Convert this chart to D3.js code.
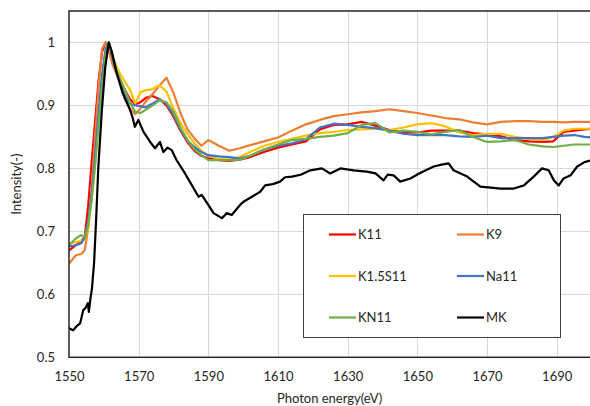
<!DOCTYPE html>
<html>
<head>
<meta charset="utf-8">
<script src="https://cdn.jsdelivr.net/npm/d3@7"></script>
<style>
  body { margin: 0; background: #fff; }
  svg { display: block; }
  text { font-family: Lato, "Open Sans", sans-serif; fill: #262626; }
</style>
</head>
<body>
<div class="chart"></div>
<script>
var svgWidth = 590;
var svgHeight = 406;

// energies shared by the five glass samples
var energy = [1550, 1552, 1553.5, 1554.5, 1555.5, 1556.5, 1557.5, 1558.5, 1559.5, 1560.5,
  1561.5, 1562.5, 1564, 1566, 1567.5, 1569, 1570.5, 1572, 1574, 1576,
  1578, 1580, 1582, 1584, 1586, 1588, 1590, 1593, 1596, 1599,
  1602, 1606, 1610, 1614, 1618, 1622, 1626, 1630, 1634, 1638,
  1642, 1646, 1650, 1654, 1658, 1662, 1666, 1670, 1674, 1678,
  1682, 1686, 1689, 1692, 1695, 1698, 1700];

var k11 = [0.670, 0.678, 0.685, 0.690, 0.740, 0.810, 0.875, 0.940, 0.985, 1.000,
  0.990, 0.975, 0.950, 0.925, 0.910, 0.902, 0.905, 0.912, 0.915, 0.910,
  0.900, 0.882, 0.860, 0.842, 0.828, 0.820, 0.816, 0.813, 0.812, 0.814,
  0.818, 0.826, 0.833, 0.838, 0.843, 0.862, 0.869, 0.870, 0.874, 0.868,
  0.861, 0.857, 0.857, 0.860, 0.860, 0.860, 0.856, 0.854, 0.851, 0.845,
  0.843, 0.842, 0.843, 0.858, 0.860, 0.862, 0.863];

var k9 = [0.649, 0.662, 0.664, 0.670, 0.705, 0.770, 0.850, 0.930, 0.990, 1.000,
  0.985, 0.965, 0.945, 0.910, 0.895, 0.886, 0.895, 0.906, 0.918, 0.932,
  0.944, 0.920, 0.888, 0.862, 0.848, 0.836, 0.845, 0.836, 0.828, 0.832,
  0.837, 0.843, 0.849, 0.860, 0.870, 0.877, 0.883, 0.886, 0.889, 0.891,
  0.894, 0.891, 0.888, 0.884, 0.880, 0.878, 0.873, 0.870, 0.874, 0.875,
  0.875, 0.874, 0.874, 0.873, 0.874, 0.874, 0.874];

var k15s11 = [0.681, 0.683, 0.685, 0.688, 0.705, 0.750, 0.810, 0.880, 0.940, 0.985,
  1.000, 0.980, 0.957, 0.938, 0.925, 0.903, 0.921, 0.924, 0.926, 0.932,
  0.922, 0.895, 0.872, 0.855, 0.840, 0.828, 0.820, 0.815, 0.814, 0.818,
  0.826, 0.836, 0.842, 0.847, 0.852, 0.856, 0.858, 0.861, 0.862, 0.863,
  0.861, 0.865, 0.870, 0.872, 0.867, 0.857, 0.853, 0.855, 0.855, 0.850,
  0.847, 0.845, 0.850, 0.860, 0.863, 0.863, 0.863];

var na11 = [0.676, 0.678, 0.681, 0.690, 0.715, 0.760, 0.820, 0.890, 0.950, 0.990,
  1.000, 0.975, 0.945, 0.918, 0.903, 0.900, 0.899, 0.897, 0.903, 0.910,
  0.903, 0.885, 0.862, 0.844, 0.834, 0.826, 0.821, 0.819, 0.818, 0.816,
  0.820, 0.830, 0.836, 0.840, 0.846, 0.865, 0.871, 0.869, 0.866, 0.864,
  0.860, 0.855, 0.853, 0.853, 0.853, 0.851, 0.850, 0.852, 0.848, 0.848,
  0.848, 0.848, 0.850, 0.852, 0.853, 0.850, 0.849];

var kn11 = [0.678, 0.689, 0.694, 0.690, 0.710, 0.750, 0.805, 0.870, 0.930, 0.980,
  1.000, 0.980, 0.950, 0.925, 0.905, 0.890, 0.888, 0.893, 0.900, 0.908,
  0.905, 0.890, 0.865, 0.845, 0.830, 0.821, 0.813, 0.813, 0.813, 0.814,
  0.820, 0.830, 0.838, 0.845, 0.847, 0.850, 0.852, 0.856, 0.869, 0.872,
  0.857, 0.860, 0.858, 0.854, 0.858, 0.861, 0.850, 0.842, 0.843, 0.845,
  0.838, 0.835, 0.834, 0.836, 0.838, 0.838, 0.838];

// the reference sample was read on its own, finer grid
var mkEnergy = [1550, 1551.2, 1552.3, 1553.2, 1554.1, 1554.7, 1555.4, 1555.7, 1556.1, 1556.6,
  1557.2, 1557.8, 1558.4, 1559.4, 1560.4, 1561.4, 1562.3, 1563.5, 1565.4, 1567.3,
  1568.2, 1568.9, 1569.9, 1571.4, 1573.3, 1574.7, 1576.1, 1577.1, 1578.3, 1579.5,
  1580.9, 1583.3, 1585.3, 1587.2, 1588.1, 1590, 1591.5, 1593.9, 1595.3, 1596.7,
  1599.1, 1600.1, 1602.5, 1604.9, 1606.3, 1608.5, 1610.6, 1612, 1614, 1616.5,
  1619.3, 1622.6, 1625, 1627.9, 1631.7, 1635.5, 1638, 1640.3, 1641.5, 1643.2,
  1645.1, 1648, 1650.5, 1654.7, 1657, 1659, 1660.4, 1664.3, 1668.1, 1673.9,
  1677.7, 1680.6, 1683.4, 1685.8, 1687.7, 1689.2, 1690.6, 1692, 1694, 1695.9,
  1698, 1700];

var mk = [0.546, 0.543, 0.550, 0.554, 0.575, 0.578, 0.586, 0.572, 0.591, 0.610,
  0.650, 0.720, 0.800, 0.890, 0.960, 1.000, 0.985, 0.956, 0.920, 0.896,
  0.882, 0.866, 0.877, 0.858, 0.842, 0.832, 0.842, 0.826, 0.833, 0.829,
  0.813, 0.792, 0.773, 0.755, 0.758, 0.742, 0.729, 0.721, 0.729, 0.726,
  0.742, 0.747, 0.755, 0.763, 0.773, 0.775, 0.779, 0.786, 0.787, 0.790,
  0.797, 0.800, 0.792, 0.800, 0.797, 0.795, 0.792, 0.781, 0.790, 0.789,
  0.779, 0.784, 0.792, 0.803, 0.806, 0.808, 0.797, 0.787, 0.771, 0.768,
  0.768, 0.773, 0.787, 0.800, 0.797, 0.781, 0.773, 0.784, 0.789, 0.803,
  0.810, 0.813];

var seriesNames = ["K11", "K9", "K1.5S11", "Na11", "KN11", "MK"];
var seriesColors = ["#ff0000", "#ed7d31", "#ffc000", "#4472c4", "#70ad47", "#000000"];
var xTicks = [1550, 1570, 1590, 1610, 1630, 1650, 1670, 1690];
var yTicks = [0.5, 0.6, 0.7, 0.8, 0.9, 1];

var plot = { left: 69, top: 11, right: 591.5, bottom: 357.3 };

var svg = d3.select(".chart")
  .append("svg")
  .attr("width", svgWidth)
  .attr("height", svgHeight);

var xScale = d3.scaleLinear()
  .domain([1550, 1700])
  .range([plot.left, plot.right]);

var yScale = d3.scaleLinear()
  .domain([0.5, 1.05])
  .range([plot.bottom, plot.top]);

function makeGrid() {
  svg.append("g")
    .selectAll("line")
    .data(xTicks.slice(1))
    .enter()
    .append("line")
    .attr("x1", function(d) { return Math.round(xScale(d)) + 0.5; })
    .attr("x2", function(d) { return Math.round(xScale(d)) + 0.5; })
    .attr("y1", plot.top)
    .attr("y2", plot.bottom)
    .attr("stroke", "#d9d9d9")
    .attr("stroke-width", 1);

  svg.append("g")
    .selectAll("line")
    .data(yTicks.slice(1))
    .enter()
    .append("line")
    .attr("x1", plot.left)
    .attr("x2", plot.right)
    .attr("y1", function(d) { return Math.round(yScale(d)) + 0.5; })
    .attr("y2", function(d) { return Math.round(yScale(d)) + 0.5; })
    .attr("stroke", "#d9d9d9")
    .attr("stroke-width", 1);
}

function makeAxes() {
  var xAxis = d3.axisBottom(xScale)
    .tickValues(xTicks)
    .tickSize(0)
    .tickPadding(14)
    .tickFormat(d3.format("d"));

  var gx = svg.append("g")
    .attr("transform", "translate(0," + plot.bottom + ")")
    .call(xAxis);
  gx.select(".domain").remove();
  gx.selectAll("text")
    .attr("font-size", 13)
    .attr("font-family", "Lato, sans-serif")
    .attr("fill", "#262626");

  var yAxis = d3.axisLeft(yScale)
    .tickValues(yTicks)
    .tickSize(0)
    .tickPadding(14)
    .tickFormat(function(d) { return d === 1 ? "1" : d3.format(".1f")(d); });

  var gy = svg.append("g")
    .attr("transform", "translate(" + plot.left + ",0)")
    .call(yAxis);
  gy.select(".domain").remove();
  gy.selectAll("text")
    .attr("font-size", 13)
    .attr("font-family", "Lato, sans-serif")
    .attr("fill", "#262626");

  svg.append("text")
    .text("Photon energy(eV)")
    .attr("x", (plot.left + 590) / 2)
    .attr("y", 403)
    .attr("text-anchor", "middle")
    .attr("font-size", 13);

  svg.append("text")
    .text("Intensity(-)")
    .attr("transform", "translate(21," + ((plot.top + plot.bottom) / 2) + ") rotate(-90)")
    .attr("text-anchor", "middle")
    .attr("font-size", 13);
}

function drawLines() {
  var allData = [
    energy.map(function(e, i) { return [e, k11[i]]; }),
    energy.map(function(e, i) { return [e, k9[i]]; }),
    energy.map(function(e, i) { return [e, k15s11[i]]; }),
    energy.map(function(e, i) { return [e, na11[i]]; }),
    energy.map(function(e, i) { return [e, kn11[i]]; }),
    mkEnergy.map(function(e, i) { return [e, mk[i]]; })
  ];

  svg.append("clipPath")
    .attr("id", "plotClip")
    .append("rect")
    .attr("x", plot.left)
    .attr("y", plot.top)
    .attr("width", plot.right - plot.left)
    .attr("height", plot.bottom - plot.top);

  var line = d3.line()
    .x(function(d) { return xScale(d[0]); })
    .y(function(d) { return yScale(d[1]); });

  svg.append("g")
    .attr("clip-path", "url(#plotClip)")
    .selectAll("path")
    .data(allData)
    .enter()
    .append("path")
    .attr("d", line)
    .attr("fill", "none")
    .attr("stroke", function(d, i) { return seriesColors[i]; })
    .attr("stroke-width", 2.2)
    .attr("stroke-linejoin", "round")
    .attr("stroke-linecap", "round");
}

function makeFrame() {
  // plot border; right edge falls just outside the picture
  svg.append("rect")
    .attr("x", plot.left)
    .attr("y", plot.top)
    .attr("width", plot.right + 2 - plot.left)
    .attr("height", plot.bottom - plot.top)
    .attr("fill", "none")
    .attr("stroke", "#262626")
    .attr("stroke-width", 1.5);
}

function makeLegend() {
  var box = { x: 303.5, y: 214.5, w: 257, h: 123 };
  var g = svg.append("g");

  g.append("rect")
    .attr("x", box.x)
    .attr("y", box.y)
    .attr("width", box.w)
    .attr("height", box.h)
    .attr("fill", "#fff")
    .attr("stroke", "#404040")
    .attr("stroke-width", 1);

  var items = g.selectAll("g.item")
    .data(seriesNames)
    .enter()
    .append("g")
    .attr("class", "item")
    .attr("transform", function(d, i) {
      var col = i % 2, row = Math.floor(i / 2);
      return "translate(" + (329 + col * 128) + "," + (234.5 + row * 41.5) + ")";
    });

  items.append("line")
    .attr("x1", 0)
    .attr("x2", 27)
    .attr("y1", 0)
    .attr("y2", 0)
    .attr("stroke", function(d, i) { return seriesColors[i]; })
    .attr("stroke-width", 2.2);

  items.append("text")
    .text(function(d) { return d; })
    .attr("x", 29)
    .attr("y", 0)
    .attr("dy", "0.35em")
    .attr("font-size", 13);
}

makeGrid();
drawLines();
makeFrame();
makeAxes();
makeLegend();
</script>
</body>
</html>
